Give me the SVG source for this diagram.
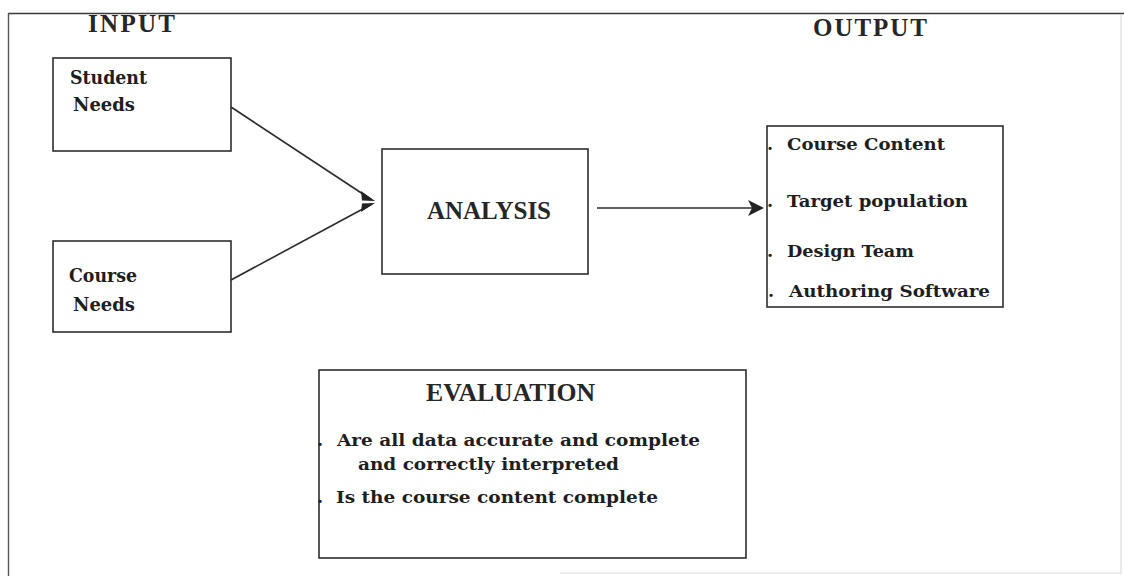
<svg xmlns="http://www.w3.org/2000/svg" width="1124" height="576" viewBox="0 0 1124 576">
  <defs>
    <style>
      .box { fill: #ffffff; stroke: #2e2e2e; stroke-width: 1.6; }
      .edge { fill: none; stroke: #2a2a2a; stroke-width: 1.6; }
      .head { fill: #222222; stroke: none; }
      .title { font-family: "Liberation Serif", "Times New Roman", serif; font-weight: bold; font-size: 25px; fill: #262626; }
      .label { font-family: "DejaVu Serif", "Liberation Serif", serif; font-weight: bold; font-size: 19px; fill: #1e1e1e; }
      .item { font-family: "DejaVu Serif", "Liberation Serif", serif; font-weight: bold; font-size: 17.5px; fill: #1e1e1e; }
    </style>
  </defs>

  <rect width="1124" height="576" fill="#ffffff"/>

  <!-- outer frame: strong top and left, faint right and bottom -->
  <g id="frame">
    <line x1="8" y1="13.5" x2="1124" y2="13.5" stroke="#3a3a3a" stroke-width="1.6"/>
    <line x1="8.5" y1="13" x2="8.5" y2="576" stroke="#555555" stroke-width="1.4"/>
    <line x1="1121" y1="14" x2="1121" y2="574" stroke="#d6d6d6" stroke-width="1"/>
    <line x1="560" y1="573" x2="1121" y2="573" stroke="#dcdcdc" stroke-width="1"/>
  </g>

  <!-- column headings -->
  <text class="title" x="88" y="32" textLength="87" lengthAdjust="spacing">INPUT</text>
  <text class="title" x="813" y="36" textLength="114" lengthAdjust="spacing">OUTPUT</text>

  <g id="student-needs">
    <rect class="box" x="53" y="58" width="178" height="93"/>
    <text class="label" x="70" y="84" textLength="77" lengthAdjust="spacingAndGlyphs">Student</text>
    <text class="label" x="73" y="111" textLength="62" lengthAdjust="spacingAndGlyphs">Needs</text>
  </g>

  <g id="course-needs">
    <rect class="box" x="53" y="241" width="178" height="91"/>
    <text class="label" x="69" y="282" textLength="68" lengthAdjust="spacingAndGlyphs">Course</text>
    <text class="label" x="73" y="311" textLength="62" lengthAdjust="spacingAndGlyphs">Needs</text>
  </g>

  <g id="analysis">
    <rect class="box" x="382" y="149" width="206" height="125"/>
    <text class="title" x="427" y="219" textLength="124" lengthAdjust="spacingAndGlyphs">ANALYSIS</text>
  </g>

  <g id="output">
    <rect class="box" x="767" y="126" width="236" height="181"/>
    <text class="item" x="767" y="150">.</text>
    <text class="item" x="787" y="150" textLength="158" lengthAdjust="spacingAndGlyphs">Course Content</text>
    <text class="item" x="767" y="207">.</text>
    <text class="item" x="787" y="207" textLength="181" lengthAdjust="spacingAndGlyphs">Target population</text>
    <text class="item" x="767" y="257">.</text>
    <text class="item" x="787" y="257" textLength="127" lengthAdjust="spacingAndGlyphs">Design Team</text>
    <text class="item" x="768" y="297">.</text>
    <text class="item" x="789" y="297" textLength="201" lengthAdjust="spacingAndGlyphs">Authoring Software</text>
  </g>

  <g id="evaluation">
    <rect class="box" x="319" y="370" width="427" height="188"/>
    <text class="title" x="426" y="401" textLength="169" lengthAdjust="spacingAndGlyphs">EVALUATION</text>
    <text class="item" x="317" y="446">.</text>
    <text class="item" x="337" y="446" textLength="363" lengthAdjust="spacingAndGlyphs">Are all data accurate and complete</text>
    <text class="item" x="358" y="470" textLength="261" lengthAdjust="spacingAndGlyphs">and correctly interpreted</text>
    <text class="item" x="317" y="503">.</text>
    <text class="item" x="336" y="503" textLength="322" lengthAdjust="spacingAndGlyphs">Is the course content complete</text>
  </g>

  <!-- connectors -->
  <g id="connectors">
    <line class="edge" x1="231" y1="107" x2="372" y2="200"/>
    <line class="edge" x1="231" y1="280" x2="372" y2="204"/>
    <!-- notched head where the two input lines meet -->
    <polygon class="head" points="361,191 375,201 362,200.5"/>
    <polygon class="head" points="362,203.5 375,203 361,212"/>
    <line class="edge" x1="597" y1="208" x2="752" y2="208"/>
    <polygon class="head" points="748,200 764,208 748,216 752,208"/>
  </g>
</svg>
